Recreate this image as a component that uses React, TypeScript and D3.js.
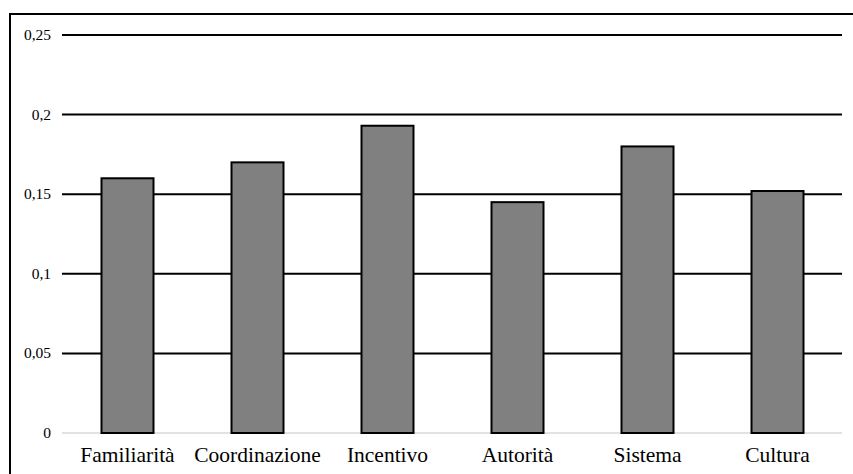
import React from "react";
import * as d3 from "d3";

const categories = ["Familiarità", "Coordinazione", "Incentivo", "Autorità", "Sistema", "Cultura"];
const values = [0.16, 0.17, 0.193, 0.145, 0.18, 0.152];
const yTicks = [0, 0.05, 0.1, 0.15, 0.2, 0.25];
const yTickLabels = ["0", "0,05", "0,1", "0,15", "0,2", "0,25"];

export default function App() {
  const W = 853, H = 474;
  const x = d3.scaleBand<string>().domain(categories).range([62.5, 842.5]).paddingInner(0.6).paddingOuter(0.3);
  const y = d3.scaleLinear().domain([0, 0.25]).range([433, 35]);
  const font = "\"Liberation Serif\", \"Times New Roman\", serif";
  return (
    <svg width={W} height={H} style={{ position: "absolute", left: 0, top: 0 }}>
      <rect x={0} y={0} width={W} height={H} fill="#fff" />
      <rect x={10} y={14} width={860} height={480} fill="none" stroke="#000" strokeWidth={2} />
      {yTicks.map((t, i) => (
        <g key={t}>
          <line x1={62} x2={842} y1={y(t)} y2={y(t)} stroke={t === 0 ? "#d9d9d9" : "#000"} strokeWidth={t === 0 ? 1.5 : 2} />
          <text x={51} y={y(t) + 5} textAnchor="end" style={{ fontFamily: font, fontSize: "15.5px" }} fill="#000">
            {yTickLabels[i]}
          </text>
        </g>
      ))}
      {categories.map((c, i) => (
        <rect key={c} x={x(c)!} y={y(values[i])} width={x.bandwidth()} height={y(0) - y(values[i])}
          fill="#808080" stroke="#000" strokeWidth={2} />
      ))}
      {categories.map((c) => (
        <text key={c} x={x(c)! + x.bandwidth() / 2} y={462} textAnchor="middle" style={{ fontFamily: font, fontSize: "21.5px" }} fill="#000">
          {c}
        </text>
      ))}
    </svg>
  );
}
